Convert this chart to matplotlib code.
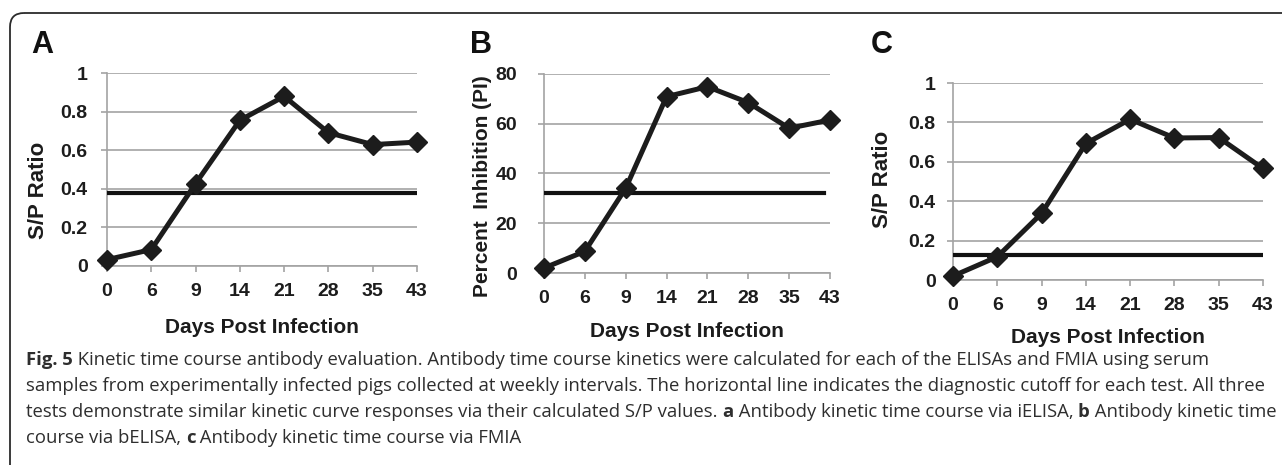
import matplotlib
matplotlib.use("Agg")
import matplotlib.pyplot as plt
import matplotlib.patches as mpatches

W, H = 1282, 465

days = ["0", "6", "9", "14", "21", "28", "35", "43"]
sp_ielisa = [0.033, 0.085, 0.427, 0.755, 0.879, 0.691, 0.629, 0.642]
pi_belisa = [2.0, 8.7, 34.1, 70.9, 74.9, 68.5, 58.2, 61.5]
sp_fmia = [0.02, 0.118, 0.338, 0.693, 0.816, 0.721, 0.723, 0.566]
cutoffs = [0.38, 32.0, 0.127]

caption_lines = [
    [("Fig. 5", True), (" Kinetic time course antibody evaluation. Antibody time course kinetics were calculated for each of the ELISAs and FMIA using serum", False)],
    [("samples from experimentally infected pigs collected at weekly intervals. The horizontal line indicates the diagnostic cutoff for each test. All three", False)],
    [("tests demonstrate similar kinetic curve responses via their calculated S/P values. ", False), ("a", True),
     (" Antibody kinetic time course via iELISA, ", False), ("b", True), (" Antibody kinetic time", False)],
    [("course via bELISA, ", False), ("c", True), (" Antibody kinetic time course via FMIA", False)],
]

DARK = "#1c1c1c"
GRID = "#a3a3a3"
SANS = ["Liberation Sans", "DejaVu Sans"]

fig = plt.figure(figsize=(W / 100, H / 100), dpi=100)

# overlay in pixel coords for the frame, letters and caption
bg = fig.add_axes([0, 0, 1, 1], zorder=0)
bg.set_xlim(0, W)
bg.set_ylim(H, 0)
bg.axis("off")
frame = mpatches.FancyBboxPatch((10, 13), 1400, 600,
                                boxstyle="round,pad=0,rounding_size=14",
                                facecolor="none", edgecolor="#2b2b2b", linewidth=1.3)
bg.add_patch(frame)


def px_axes(left, top, right, bottom):
    return fig.add_axes([left / W, 1 - bottom / H, (right - left) / W, (bottom - top) / H], zorder=2)


panels = [
    # box px, values, ylim, yticks, ytick labels, ylabel, ylabel pos, label size, ytick pad, xlabel y, letter
    ((107, 73, 417, 266), sp_ielisa, (0, 1), [0, 0.2, 0.4, 0.6, 0.8, 1.0],
     ["0", "0.2", "0.4", "0.6", "0.8", "1"], "S/P Ratio", (38, 190), 16, 9.5, 327, ("A", 42)),
    ((544, 74, 830, 273), pi_belisa, (0, 80), [0, 20, 40, 60, 80],
     ["0", "20", "40", "60", "80"], "Percent  Inhibition (PI)", (483, 186), 15, 15, 331, ("B", 481)),
    ((953, 83, 1263, 280), sp_fmia, (0, 1), [0, 0.2, 0.4, 0.6, 0.8, 1.0],
     ["0", "0.2", "0.4", "0.6", "0.8", "1"], "S/P Ratio", (883, 179), 16, 8, 337, ("C", 882)),
]
cut_span = [(0.007, 1.0), (0.007, 0.978), (0.007, 0.997)]

for i, (box, vals, ylim, yt, ytl, ylab, ylpos, ylsize, ypad, xly, letter) in enumerate(panels):
    ax = px_axes(*box)
    x = range(len(days))
    ax.set_xlim(0, len(days) - 1)
    ax.set_ylim(*ylim)
    ax.set_yticks(yt)
    ax.set_yticklabels(ytl)
    ax.set_xticks(list(x))
    ax.set_xticklabels(days)
    ax.grid(axis="y", color=GRID, linewidth=1.2, zorder=0)
    ax.set_axisbelow(True)
    for s in ["top", "right"]:
        ax.spines[s].set_visible(False)
    for s in ["left", "bottom"]:
        ax.spines[s].set_color(GRID)
        ax.spines[s].set_linewidth(1.2)
    ax.tick_params(axis="both", direction="out", length=4.5, width=1.2, color=GRID,
                   labelsize=14, labelcolor=DARK)
    ax.tick_params(axis="x", pad=8)
    ax.tick_params(axis="y", pad=ypad)
    for lab in ax.get_xticklabels() + ax.get_yticklabels():
        lab.set_fontweight("bold")
        lab.set_family(SANS)
    lo, hi = cut_span[i]
    ax.axhline(cutoffs[i], xmin=lo, xmax=hi, color="#111111", linewidth=3.0, zorder=3)
    ax.plot(list(x), vals, color=DARK, linewidth=3.6, marker="D", markersize=10.5,
            markerfacecolor=DARK, markeredgecolor=DARK, clip_on=False, zorder=4)

    bg.text(ylpos[0], ylpos[1], ylab, rotation=90, ha="center", va="center",
            fontsize=ylsize, fontweight="bold", family=SANS, color=DARK)
    bg.text((box[0] + box[2]) / 2, xly, "Days Post Infection", ha="center", va="center",
            fontsize=15, fontweight="bold", family=SANS, color=DARK)
    bg.text(letter[1], 45, letter[0], ha="center", va="center",
            fontsize=22, fontweight="bold", family=SANS, color="#111111")

# caption with bold pieces
renderer = fig.canvas.get_renderer()
cap_y = [360, 386, 412, 438]
for y, segs in zip(cap_y, caption_lines):
    xpos = 26
    for txt, bold in segs:
        t = bg.text(xpos, y, txt, ha="left", va="center", fontsize=13.3,
                    fontweight="bold" if bold else "normal",
                    family=["Open Sans", "DejaVu Sans"], color="#2e2e2e")
        bb = t.get_window_extent(renderer=renderer)
        xpos += bb.width

fig.savefig("out.png", dpi=100)
